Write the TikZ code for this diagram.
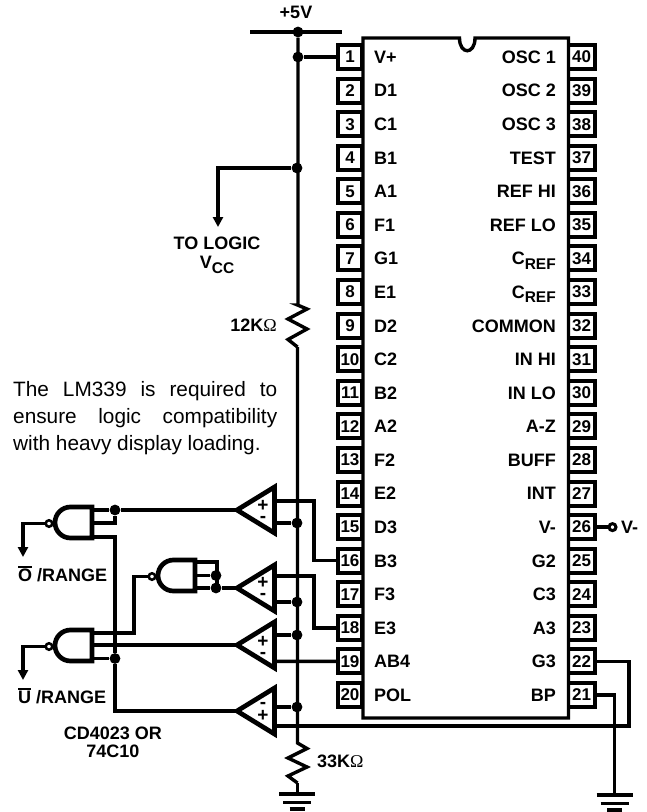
\documentclass[tikz,border=0pt]{standalone}
\usepackage{fontspec}
\setmainfont{Liberation Sans}
\newfontfamily\omfont{Liberation Serif}
\usetikzlibrary{arrows.meta,calc}
\newcommand{\lab}{\fontsize{18}{19}\selectfont\bfseries}
\newcommand{\Om}{{\mdseries\omfont\fontsize{18}{19}\selectfont\symbol{"03A9}}}
\newcommand{\ovl}[1]{\leavevmode\vbox{\hrule height 1.6pt\kern1.4pt\hbox{#1}}}
\newcommand{\Cref}{C\raisebox{-4.5pt}{\fontsize{15.5}{15}\selectfont REF}}
\tikzset{
 wire/.style={line width=3.4pt,line cap=butt,line join=miter},
 heavy/.style={line width=4.7pt,line join=miter,miter limit=10},
 dotj/.style={circle,fill=black,inner sep=0pt,minimum size=10.8pt},
 pinbox/.style={draw,line width=4pt,inner sep=0pt,minimum height=24pt,font=\fontsize{17}{19}\selectfont\bfseries},
 lpin/.style={pinbox,minimum width=24pt},
 rpin/.style={pinbox,minimum width=27pt},
 lname/.style={anchor=base west,font=\lab,inner sep=0pt},
 rname/.style={anchor=base east,font=\lab,inner sep=0pt},
 txt/.style={font=\lab,inner sep=0pt,align=center},
 sgn/.style={font=\fontsize{19}{11}\selectfont\bfseries,inner sep=0pt,align=center},
 arroww/.style={wire,-{Triangle[length=10pt,width=10pt]}},
 bubble/.style={circle,draw,fill=white,line width=2.5pt,inner sep=0pt,minimum size=6.5pt},
}
% comparator: name, tip y, sign centre y, signs text
\newcommand{\comparator}[4]{%
 \coordinate (#1) at (237,#2);
 \draw[heavy,fill=white] (237,#2) -- (274.5,#2-23) -- (274.5,#2+23) -- cycle;
 \node[sgn] (#1s) at (263,#3) {#4};
}
% nand gate: name, back x, centre y
\newcommand{\nand}[3]{%
 \coordinate (#1) at (#2,#3);
 \draw[heavy,fill=white] (#2,#3-15.5) -- ++(-21.5,0) arc[start angle=-90,end angle=-270,radius=15.5] -- (#2,#3+15.5) -- cycle;
 \node[bubble] (#1o) at (#2-43,#3+1) {};
}
\newcommand{\gnd}[3]{%
 \draw[line width=3.4pt] (#1-18,#2) -- (#1+18,#2);
 \draw[line width=3.4pt] (#1-14,#2+8.5) -- (#1+14,#2+8.5);
 \draw[line width=3.4pt] (#1-7.5,#2+15) -- (#1+7.5,#2+15);
 \coordinate (#3) at (#1,#2);
}
\begin{document}
\begin{tikzpicture}[x=1pt,y=-1pt]
\useasboundingbox (0,0) rectangle (647,812);
% pins
\foreach \n in {1,...,20}{
  \pgfmathsetmacro{\yy}{57+33.58*(\n-1)}
  \node[lpin] (p\n) at (350,\yy) {\n};
}
\foreach \n in {21,...,40}{
  \pgfmathsetmacro{\yy}{57+33.58*(40-\n)}
  \node[rpin] (p\n) at (581.5,\yy) {\n};
}
% chip
\draw[line width=3.4pt,fill=white] (363,38) -- (459.5,38) .. controls (459.5,55) and (475,55) .. (475,38) -- (568.5,38) -- (568.5,718) -- (363,718) -- cycle;
\foreach \n/\t in {1/V+,2/D1,3/C1,4/B1,5/A1,6/F1,7/G1,8/E1,9/D2,10/C2,11/B2,12/A2,13/F2,14/E2,15/D3,16/B3,17/F3,18/E3,19/AB4,20/POL}{
  \pgfmathsetmacro{\yy}{57+33.58*(\n-1)+6.4}
  \node[lname] (n\n) at (374,\yy) {\t};
}
\foreach \n/\t in {40/OSC 1,39/OSC 2,38/OSC 3,37/TEST,36/REF HI,35/REF LO,34/\Cref,33/\Cref,32/COMMON,31/IN HI,30/IN LO,29/A-Z,28/BUFF,27/INT,26/V-,25/G2,24/C3,23/A3,22/G3,21/BP}{
  \pgfmathsetmacro{\yy}{57+33.58*(40-\n)+6.4}
  \node[rname] (n\n) at (556,\yy) {\t};
}
% supply
\coordinate (barl) at (250,32); \coordinate (barr) at (342,32);
\draw[wire] (barl) -- (barr);
\node[txt] (v5) at (296,12) {+5V};
\node[dotj] (d0) at (298,32) {};
\node[dotj] (d1) at (298,57) {};
\node[dotj] (d2) at (297,168) {};
\draw[wire] (d1) -- (p1.west);
% resistors
\coordinate (r1t) at (297.5,305); \coordinate (r1b) at (297.5,347);
\coordinate (r2t) at (297.5,743); \coordinate (r2b) at (297.5,783);
\draw[wire] (d0) -- (298,305) -- (r1t) -- (307,309) -- (288,319) -- (307,329) -- (288,339.5) -- (r1b);
\draw[wire] (r1b) -- (r2t) -- (307,748.5) -- (288,758) -- (307,767) -- (288,776) -- (r2b);
\node[txt,anchor=east] (r1l) at (277,325) {12K\Om};
\node[txt,anchor=west] (r2l) at (317,761) {33K\Om};
\gnd{297}{794}{g1}
\draw[wire] (r2b) -- (r2b |- g1);
% to logic
\coordinate (tl) at (218,168);
\coordinate (tla) at (218,227);
\draw[arroww] (d2) -- (tl) -- (tla);
\node[txt,anchor=base] (tol) at (217,249.5) {TO LOGIC};
\node[txt,anchor=base] (vcc) at (217,268.5) {V\raisebox{-4.5pt}{\fontsize{15.5}{15}\selectfont CC}};
% V-
\node[bubble,minimum size=7pt,line width=3pt] (vb) at ($(p26.east)+(15.5,0)$) {};
\draw[wire] (p26.east) -- (vb);
\node[lname] (vm) at ($(p26.east)+(24,6.4)$) {V-};
% text
\node[anchor=north west,inner sep=0pt,text width=264pt,align=justify,font=\fontsize{20.8}{27}\selectfont] (para) at (13,381)
 {The LM339 is required to\linebreak ensure logic compatibility\linebreak with heavy display loading.};
% comparators
\comparator{c1}{510}{511}{+\\-}
\comparator{c2}{588}{588.5}{+\\-}
\comparator{c3}{645}{647}{+\\-}
\comparator{c4}{711}{712}{-\\+}
% comparator inputs
\node[dotj] (j1) at (297,523) {};
\node[dotj] (j2) at (297,602) {};
\node[dotj] (j3) at (297,635) {};
\node[dotj] (j4) at (297,707) {};
\coordinate (c1p) at (274.5,501); \coordinate (c1m) at (274.5,523);
\coordinate (c2p) at (274.5,576); \coordinate (c2m) at (274.5,602);
\coordinate (c3p) at (274.5,635); \coordinate (c3m) at (274.5,661.44);
\coordinate (c4m) at (274.5,707); \coordinate (c4p) at (274.5,726);
\draw[wire] (c1m) -- (j1);
\draw[wire] (c2m) -- (j2);
\draw[wire] (c3p) -- (j3);
\draw[wire] (c4m) -- (j4);
\draw[wire] (c1p) -- (314,501) |- (p16.west);
\draw[wire] (c2p) -- (314,576) |- (p18.west);
\draw[wire] (c3m) -- (p19.west);
\coordinate (b22) at (629,726);
\draw[wire] (c4p) -- (b22) |- (p22.east);
\gnd{614.5}{795}{g2}
\draw[wire] (p21.east) -| (g2);
% gates
\nand{ga}{92}{522.5}
\nand{gb}{195}{575.5}
\nand{gc}{92}{645.5}
% gate a
\node[dotj] (ja) at (115,510) {};
\draw[wire] (92,510) -- (ja) -- (c1);
\draw[wire] (92,523) -| (ja);
\coordinate (aout) at (23,523.5);
\coordinate (aarr) at (23,557);
\draw[arroww] (gao) -- (aout) -- (aarr);
\node[dotj] (jc) at (115,658.5) {};
\draw[wire] (92,537) -- (115,537) -- (jc) -- (115,711) -- (c4);
% gate c
\draw[wire] (92,658.5) -- (jc);
\draw[wire] (92,645) -- (c3);
\draw[wire] (92,633) -- (134,633) |- (gbo);
\coordinate (cout) at (23,646.5);
\coordinate (carr) at (23,680);
\draw[arroww] (gco) -- (cout) -- (carr);
% gate b
\node[dotj] (jb1) at (216,575.5) {};
\node[dotj] (jb2) at (216,588) {};
\draw[wire] (195,562) -- (217,562) -- (217,588);
\draw[wire] (195,575.5) -- (jb1);
\draw[wire] (195,588) -- (jb2) -- (c2);
% labels
\node[txt,anchor=base west] (ol) at (18,581.5) {\ovl{O} /RANGE};
\node[txt,anchor=base west] (ul) at (18,703.5) {\ovl{U} /RANGE};
\node[txt] (cd1) at (113,733) {CD4023 OR};
\node[txt] (cd2) at (113,751) {74C10};
\end{tikzpicture}
\end{document}
